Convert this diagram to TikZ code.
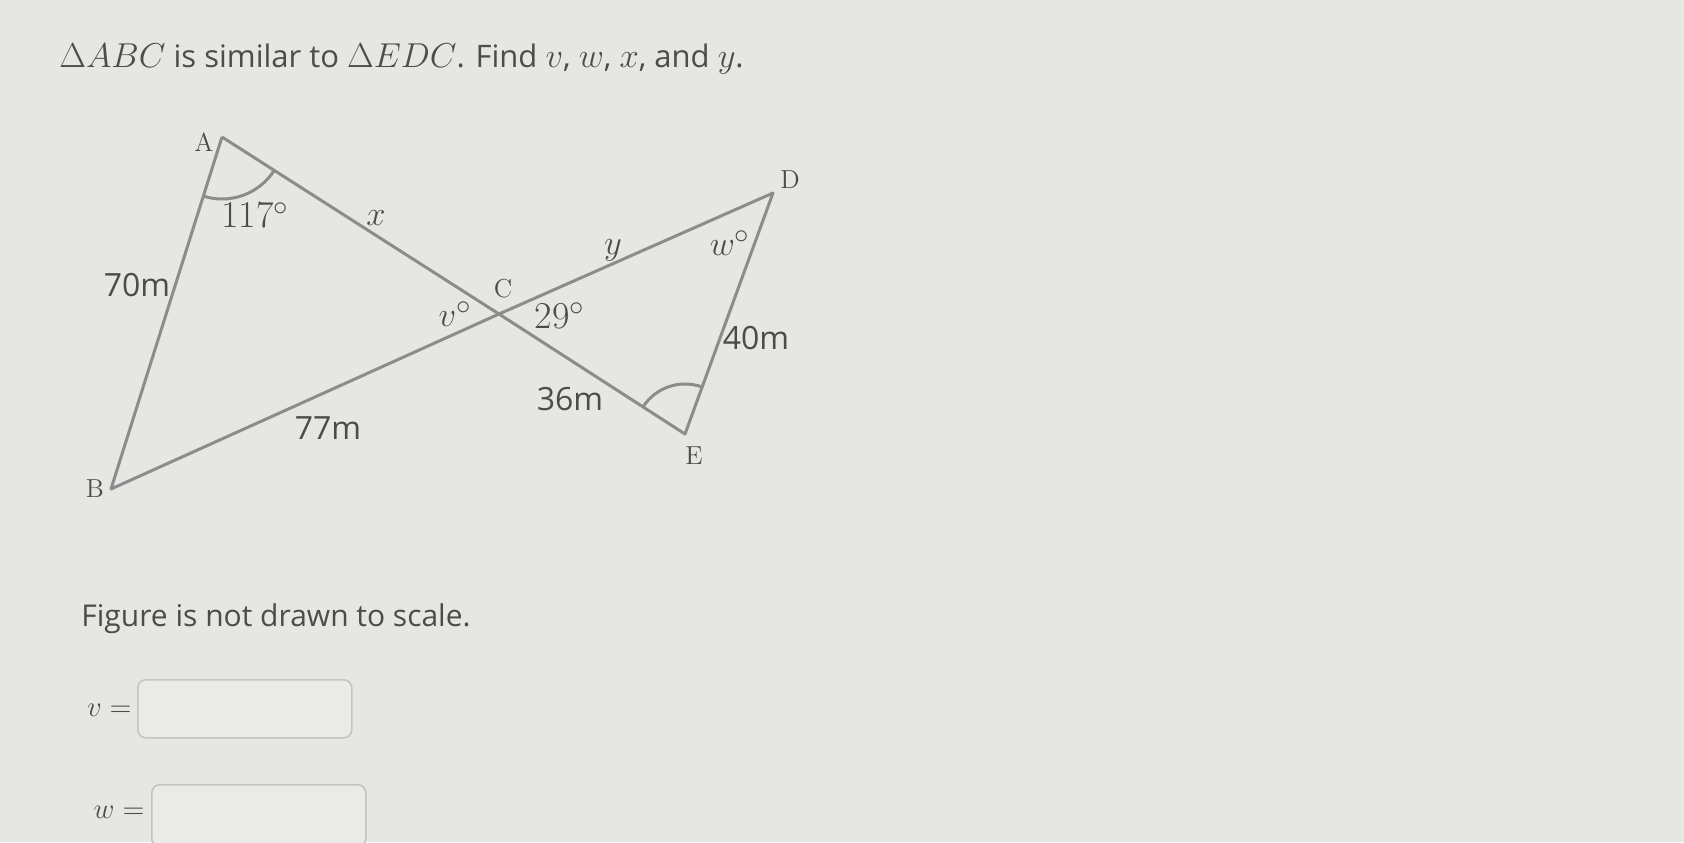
\documentclass[tikz,border=0pt]{standalone}
\usepackage{fontspec}
\setsansfont{Open Sans}
\usetikzlibrary{angles}
\definecolor{bg}{HTML}{E6E6E3}
\definecolor{bgr}{HTML}{EAEAE8}
\definecolor{ln}{HTML}{8C8C8C}
\definecolor{tx}{HTML}{4C4C4C}
\definecolor{boxc}{HTML}{C4C4C2}
\begin{document}
\begin{tikzpicture}[x=0.5pt,y=-0.5pt,
  seg/.style={draw=ln,line width=1.5pt,line join=round},
  vlab/.style={font=\fontsize{13}{15}\selectfont,text=tx,inner sep=0pt},
  dlab/.style={font=\fontsize{19}{22}\selectfont,text=tx,inner sep=0pt},
  mlab/.style={font=\sffamily\fontsize{16}{18}\selectfont,text=tx,inner sep=0pt},
  ansbox/.style={draw=boxc,line width=0.8pt,rounded corners=4pt,fill=bgr}]
\fill[bg] (0,0) rectangle (1684,842);
\useasboundingbox (0,0) rectangle (1684,842);
% title
\node[anchor=base west,inner sep=0pt,text=tx,font=\sffamily\fontsize{15.5}{20}\selectfont] (title) at (59,67)
  {\fontsize{18.5}{22}\selectfont$\Delta ABC$\fontsize{15.5}{20}\selectfont{} is similar to \fontsize{18.5}{22}\selectfont$\Delta EDC$\fontsize{15.5}{20}\selectfont. Find \fontsize{18.5}{22}\selectfont$v$\fontsize{15.5}{20}\selectfont, \fontsize{18.5}{22}\selectfont$w$\fontsize{15.5}{20}\selectfont, \fontsize{18.5}{22}\selectfont$x$\fontsize{15.5}{20}\selectfont, and \fontsize{18.5}{22}\selectfont$y$\fontsize{15.5}{20}\selectfont.};
% vertices
\coordinate (A) at (222,137);
\coordinate (B) at (111,489);
\coordinate (C) at (499,314);
\coordinate (D) at (773,193);
\coordinate (E) at (685,434);
\draw[seg] (A) -- (B) -- (C);
\draw[seg] (A) -- (C) -- (E) -- (D) -- (C);
% angle arcs
\pic[draw=ln,line width=1.5pt,angle radius=31pt] {angle = B--A--C};
\pic[draw=ln,line width=1.5pt,angle radius=25pt] {angle = D--E--C};
% vertex labels
\node[vlab] (lA) at (204,142) {A};
\node[vlab] (lB) at (95,489) {B};
\node[vlab] (lC) at (503,289) {C};
\node[vlab] (lD) at (790,180) {D};
\node[vlab] (lE) at (694,456) {E};
% measurements
\node[dlab] (a117) at (255,215) {117$^\circ$};
\node[dlab] (lx) at (376,218) {$x$};
\node[mlab] (l70) at (137,285) {70m};
\node[mlab] (l77) at (328,428) {77m};
\node[dlab] (lv) at (455,314) {$v^\circ$};
\node[dlab] (a29) at (560,316) {29$^\circ$};
\node[dlab] (ly) at (613,250) {$y$};
\node[dlab] (lw) at (730,243) {$w^\circ$};
\node[mlab] (l40) at (756,338) {40m};
\node[mlab] (l36) at (570,399) {36m};
% bottom text
\node[anchor=base west,inner sep=0pt,text=tx,font=\sffamily\fontsize{15}{18}\selectfont] (note) at (81,626)
  {Figure is not drawn to scale.};
\node[anchor=east,inner sep=0pt,text=tx,font=\fontsize{15}{18}\selectfont] (veq) at (132,710) {$v =$};
\node[ansbox,anchor=north west,minimum width=107pt,minimum height=29pt] (vbox) at (137,679) {};
\node[anchor=east,inner sep=0pt,text=tx,font=\fontsize{15}{18}\selectfont] (weq) at (145,812) {$w =$};
\node[ansbox,anchor=north west,minimum width=107pt,minimum height=31pt] (wbox) at (151,784) {};
\end{tikzpicture}
\end{document}
